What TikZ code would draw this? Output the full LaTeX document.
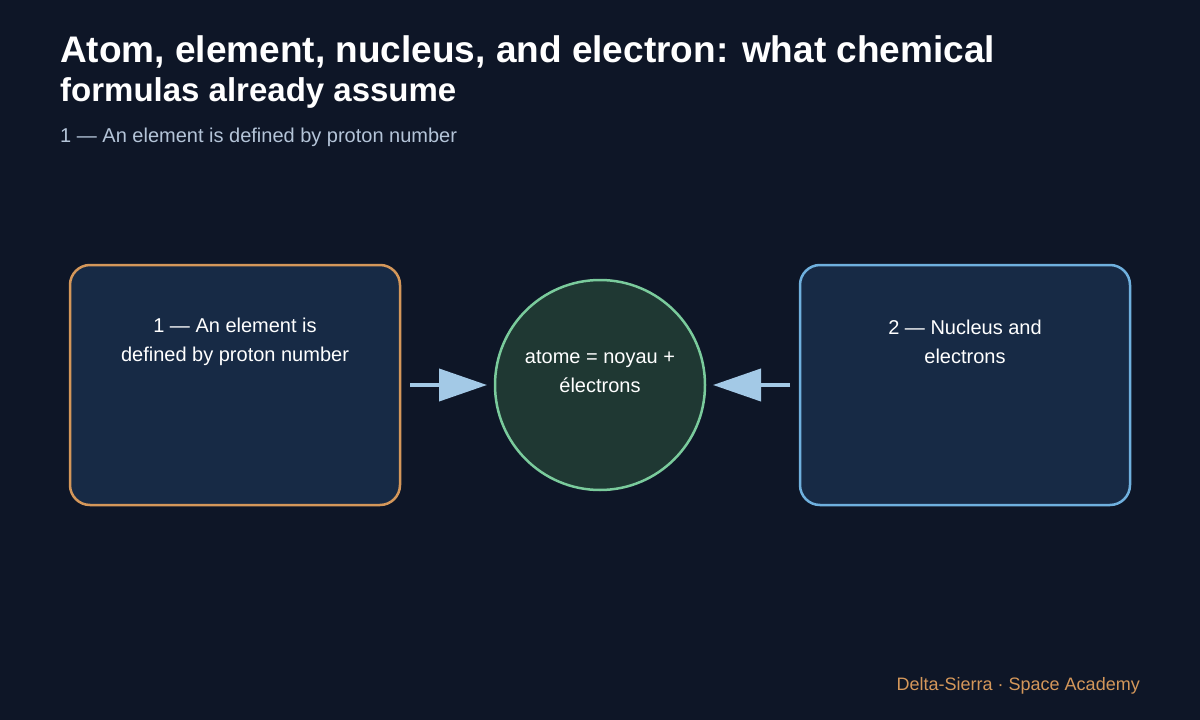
\documentclass[tikz,border=0pt]{standalone}
\usepackage{fontspec}
\setmainfont{Liberation Sans}
\usetikzlibrary{arrows.meta}
\definecolor{bg}{HTML}{0E1627}
\definecolor{boxfill}{HTML}{172A45}
\definecolor{orangeS}{HTML}{D4975A}
\definecolor{blueS}{HTML}{6FB0DE}
\definecolor{greenS}{HTML}{7ACB9C}
\definecolor{greenF}{HTML}{1F3833}
\definecolor{arr}{HTML}{A3C9E6}
\definecolor{sub}{HTML}{B4C4D8}
\begin{document}
\begin{tikzpicture}[x=1pt,y=-1pt,
  box/.style={rounded corners=20pt,line width=2.5pt,fill=boxfill},
  lbl/.style={text=white,font=\fontsize{20}{29}\selectfont,align=center},
  conn/.style={line width=4pt,arr,-{Triangle[length=48pt,width=32pt]},shorten >=-2pt}]
\fill[bg] (0,0) rectangle (1200,720);
\useasboundingbox (0,0) rectangle (1200,720);
\node[anchor=base west,text=white,font=\bfseries\fontsize{37}{40}\selectfont,inner sep=0] (t1) at (60,62) {Atom, element, nucleus, and electron: what chemical};
\node[anchor=base west,text=white,font=\bfseries\fontsize{33}{36}\selectfont,inner sep=0] (t2) at (60,101) {formulas already assume};
\node[anchor=base west,text=sub,font=\fontsize{20}{24}\selectfont,inner sep=0] (st) at (60,142) {1 — An element is defined by proton number};
\draw[box,draw=orangeS] (70,265) rectangle (400,505);
\node[lbl] (l) at (235,342) {1 — An element is\\defined by proton number};
\draw[box,draw=blueS] (800,265) rectangle (1130,505);
\node[lbl] (r) at (965,342) {2 — Nucleus and\\electrons};
\node[circle,minimum size=210pt,line width=2.5pt,draw=greenS,fill=greenF] (c) at (600,385) {};
\node[lbl] (ct) at (600,372) {atome = noyau +\\électrons};
\coordinate (a1) at (410,385); \coordinate (a2) at (485,385);
\coordinate (b1) at (790,385); \coordinate (b2) at (715,385);
\draw[conn] (a1) -- (a2);
\draw[conn] (b1) -- (b2);
\node[anchor=base east,text=orangeS,font=\fontsize{18}{22}\selectfont,inner sep=0] (f) at (1140,690) {Delta-Sierra · Space Academy};
\end{tikzpicture}
\end{document}
